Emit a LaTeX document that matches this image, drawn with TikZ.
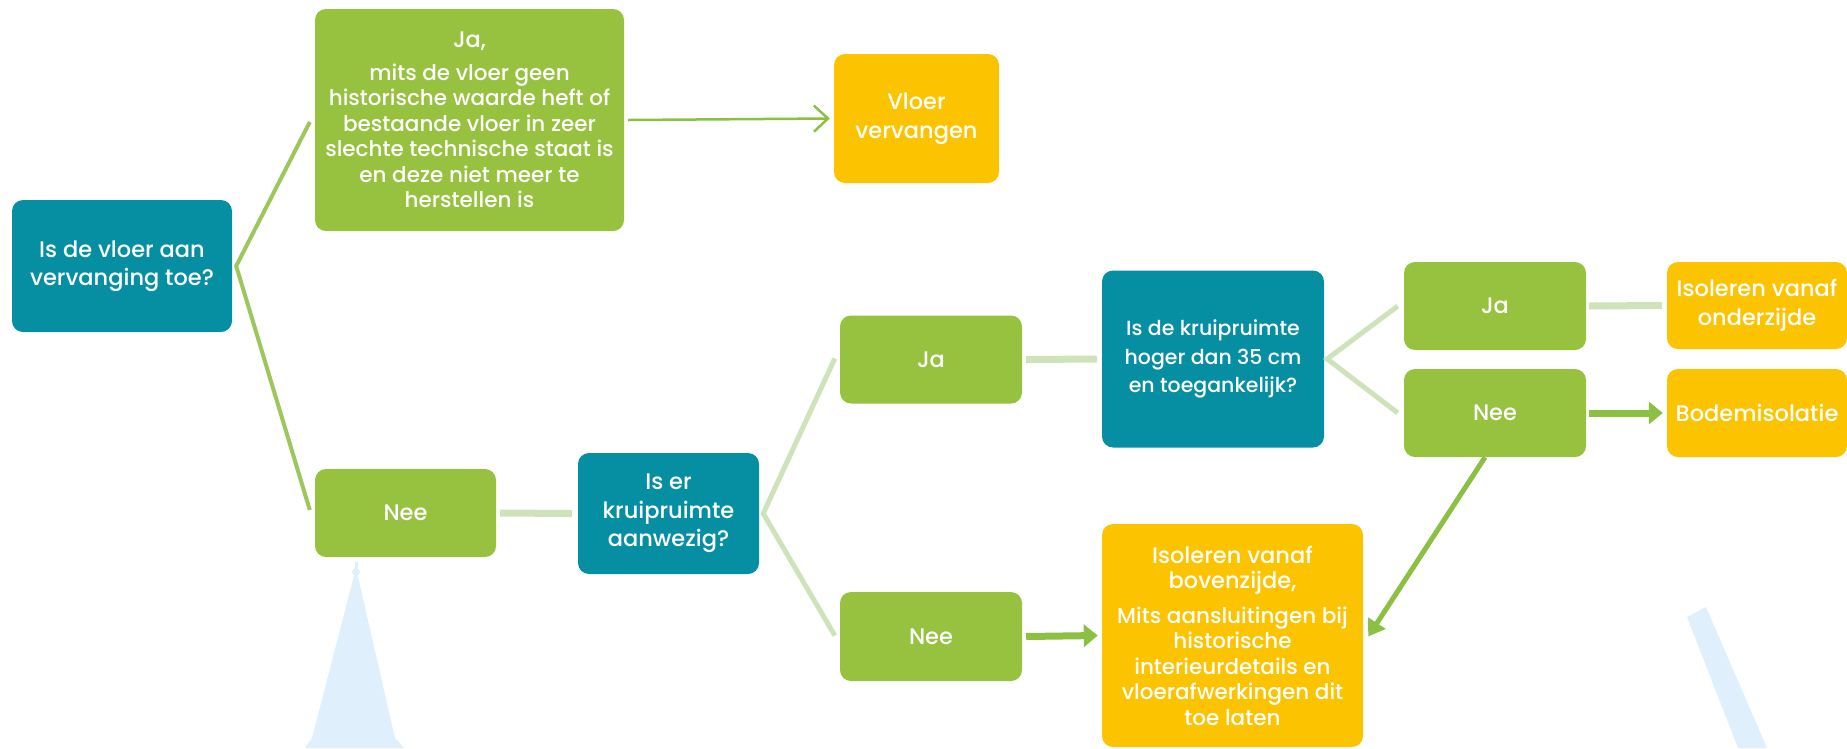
\documentclass[tikz,border=0pt]{standalone}
\usepackage{fontspec}
\setmainfont{Poppins Medium}
\usetikzlibrary{arrows.meta,calc}

\definecolor{qteal}{HTML}{068FA2}
\definecolor{boxgreen}{HTML}{96C23F}
\definecolor{outorange}{HTML}{FCC300}
\definecolor{linkmid}{HTML}{9DC75B}
\definecolor{linklight}{HTML}{CFE3BA}
\definecolor{arrowgreen}{HTML}{8CC043}
\definecolor{decoblue}{HTML}{DFF0FC}

\newcommand\cardbig{\fontsize{22.5}{28.5}\selectfont}
\newcommand\cardmid{\fontsize{20.5}{28.5}\selectfont}
\newcommand\cardsmall{\fontsize{21.5}{25.5}\selectfont}

\tikzset{
  card/.style={rounded corners=11pt, inner sep=0pt, align=center, text=white, font=\cardbig},
  question/.style={card, fill=qteal},
  answer/.style={card, fill=boxgreen},
  outcome/.style={card, fill=outorange},
  branch/.style={draw=linkmid, line width=4pt, line join=miter},
  soft/.style={draw=linklight, line width=7pt},
  softfork/.style={draw=linklight, line width=5pt, line join=miter},
  thinarrow/.style={draw=arrowgreen, line width=2.5pt, -{Straight Barb[length=14pt,width=26pt,line width=2.5pt]}},
  push/.style={draw=arrowgreen, line width=7pt, -{Triangle[length=14pt,width=22pt]}},
  pushdiag/.style={draw=arrowgreen, line width=5pt, -{Triangle[length=16pt,width=20pt]}},
}

\begin{document}
\begin{tikzpicture}[x=1pt,y=-1pt]
\useasboundingbox (0,0) rectangle (1847,748);

% background ornaments: spire and slanted band
\fill[decoblue] (354.5,562) rectangle (357.5,570);
\fill[decoblue] (356,572) circle (4);
\fill[decoblue] (356,568) -- (312,738) -- (305,748) -- (404,748) -- (395,738) -- cycle;
\fill[decoblue] (1687,617) -- (1706,607) -- (1767,748) -- (1738,748) -- cycle;

% decision cards
\node[question, minimum width=220pt, minimum height=132pt] (q1) at (122,266)
  {Is de vloer aan\\vervanging toe?};
\node[answer, minimum width=309pt, minimum height=222pt, font=\cardsmall] (jatop) at (469.5,120)
  {{\cardbig Ja,}\\[7pt]mits de vloer geen\\historische waarde heft of\\bestaande vloer in zeer\\slechte technische staat is\\en deze niet meer te\\herstellen is};
\node[outcome, minimum width=165pt, minimum height=129pt] (vloer) at (916.5,118.5)
  {Vloer\\vervangen};
\node[answer, minimum width=181pt, minimum height=88pt] (nee1) at (405.5,513) {Nee};
\node[question, minimum width=181pt, minimum height=121pt] (q2) at (668.5,513.5)
  {Is er\\kruipruimte\\aanwezig?};
\node[answer, minimum width=182pt, minimum height=88pt] (ja2) at (931,359.5) {Ja};
\node[answer, minimum width=182pt, minimum height=89pt] (nee2) at (931,636.5) {Nee};
\node[question, minimum width=222pt, minimum height=177pt, font=\cardmid] (q3) at (1213,359)
  {Is de kruipruimte\\hoger dan 35 cm\\en toegankelijk?};
\node[outcome, minimum width=261pt, minimum height=223pt, font=\cardsmall] (bov) at (1232.5,635.5)
  {{\cardbig Isoleren vanaf}\\{\cardbig bovenzijde,}\\[9pt]Mits aansluitingen bij\\historische\\interieurdetails en\\vloerafwerkingen dit\\toe laten};
\node[answer, minimum width=182pt, minimum height=88pt] (ja3) at (1495,306) {Ja};
\node[answer, minimum width=182pt, minimum height=88pt] (nee3) at (1495,413) {Nee};
\node[outcome, minimum width=180pt, minimum height=87pt] (onder) at (1757,305.5)
  {Isoleren vanaf\\onderzijde};
\node[outcome, minimum width=180pt, minimum height=88pt] (bodem) at (1757,413) {Bodemisolatie};

% connectors
\draw[branch] ([xshift=-5pt,yshift=-2pt]jatop.west) -- ([xshift=4pt]q1.east) -- ([xshift=-5pt,yshift=3pt]nee1.west);
\draw[thinarrow] ([xshift=4pt]jatop.east) -- ([xshift=-4pt]vloer.west);
\draw[soft] ([xshift=4pt]nee1.east) -- ([xshift=-6pt]q2.west);
\draw[softfork] ([xshift=-5pt,yshift=1pt]ja2.west) -- ([xshift=4pt]q2.east) -- ([xshift=-5pt,yshift=1pt]nee2.west);
\draw[soft] ([xshift=4pt]ja2.east) -- ([xshift=-5pt]q3.west);
\draw[push] ([xshift=4pt]nee2.east) -- ([xshift=-4pt]bov.west);
\draw[softfork] ([xshift=-6pt]ja3.west) -- ([xshift=3pt]q3.east) -- ([xshift=-6pt]nee3.west);
\draw[soft] ([xshift=3pt]ja3.east) -- ([xshift=-5pt]onder.west);
\draw[push] ([xshift=3pt]nee3.east) -- ([xshift=-4pt]bodem.west);
\draw[pushdiag] ([xshift=-10pt]nee3.south) -- ([xshift=5pt,yshift=-1pt]bov.east);
\end{tikzpicture}
\end{document}
